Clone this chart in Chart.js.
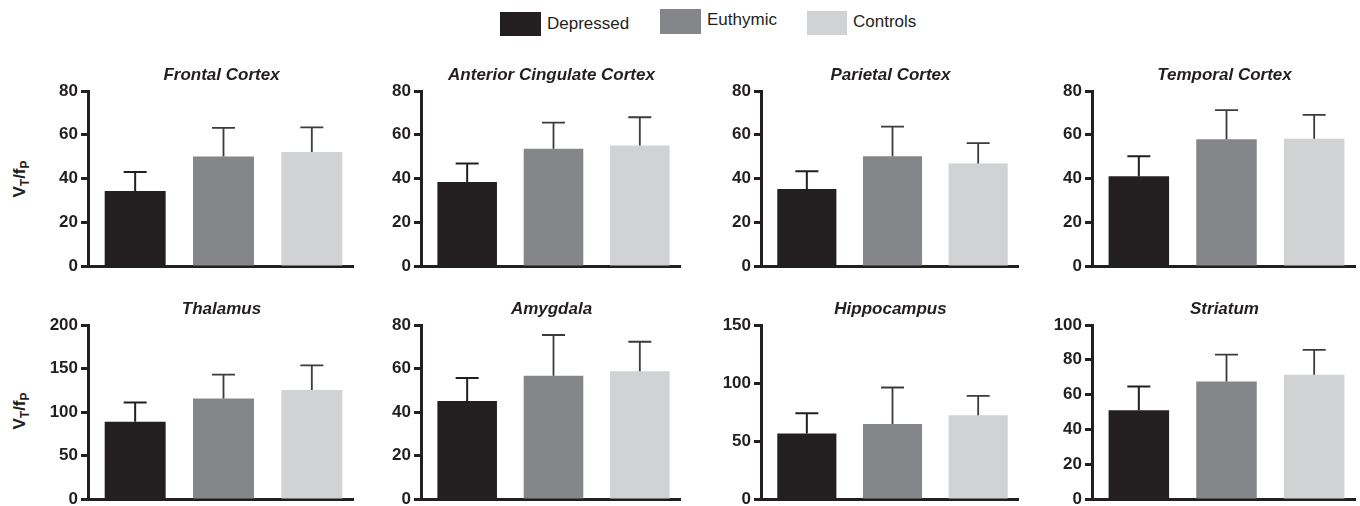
<!DOCTYPE html>
<html><head><meta charset="utf-8">
<script src="https://cdn.jsdelivr.net/npm/chart.js@4"></script>
<style>
html,body{margin:0;padding:0;background:#fff;}
body{width:1360px;height:506px;position:relative;overflow:hidden;font-family:"Liberation Sans",Arial,sans-serif;color:#231f20;}
.panel{position:absolute;}
.leg-box{position:absolute;}
.leg-text{position:absolute;font-size:17px;line-height:17px;white-space:nowrap;}
.ytitle{position:absolute;font-weight:bold;font-size:17px;line-height:20px;white-space:nowrap;transform:translate(-50%,-50%) rotate(-90deg);}
.ytitle sub{font-size:12px;vertical-align:-4px;}
</style></head><body>
<div id="root"></div>
<script>
// ---- data ----
const regions = ['Frontal Cortex','Anterior Cingulate Cortex','Parietal Cortex','Temporal Cortex','Thalamus','Amygdala','Hippocampus','Striatum'];
const groups = ['Depressed','Euthymic','Controls'];
const depressedMean = [34.3, 38.4, 35.2, 41.0, 88.8, 45.1, 56.5, 51.0];
const euthymicMean  = [50.1, 53.6, 50.2, 57.9, 115.4, 56.7, 64.6, 67.6];
const controlsMean  = [52.1, 55.1, 46.9, 58.2, 125.3, 58.7, 72.1, 71.4];
const depressedSD = [8.7, 8.5, 8.1, 9.2, 22.1, 10.5, 17.4, 13.7];
const euthymicSD  = [13.0, 11.9, 13.5, 13.4, 27.5, 18.7, 31.5, 15.4];
const controlsSD  = [11.3, 12.9, 9.3, 10.9, 28.2, 13.6, 16.8, 14.3];
const yMax  = [80, 80, 80, 80, 200, 80, 150, 100];
const yStep = [20, 20, 20, 20, 50, 20, 50, 20];

// ---- styling / layout ----
const groupColors = ['#231f20', '#858689', '#d1d2d4'];
const errColors = ['#231f20', '#3d3b3c', '#3d3b3c'];
const INK = '#231f20';
const FONT = '"Liberation Sans", Arial, sans-serif';
const axisX = [88, 421, 761, 1092];
const axisRight = [353, 680, 1018, 1355];
const rowTop = [91, 325];
const rowBottom = [266, 499];
const LW = 60, TP = 36, RP = 4, BP = 14;
const BAR_SHIFT = 3;

const root = document.getElementById('root');

// legend (HTML)
const legendPos = [
  {bx:500, by:12, bw:41, bh:24, tx:547, ty:15},
  {bx:660, by:9,  bw:41, bh:25, tx:707, ty:11},
  {bx:807, by:11, bw:40, bh:24, tx:853, ty:13}
];
groups.forEach((g, i) => {
  const p = legendPos[i];
  const b = document.createElement('div');
  b.className = 'leg-box';
  Object.assign(b.style, {left:p.bx+'px', top:p.by+'px', width:p.bw+'px', height:p.bh+'px', background:groupColors[i]});
  root.appendChild(b);
  const t = document.createElement('div');
  t.className = 'leg-text';
  t.textContent = g;
  Object.assign(t.style, {left:p.tx+'px', top:p.ty+'px'});
  root.appendChild(t);
});

// y-axis titles (HTML with subscripts)
[179, 411].forEach(cy => {
  const d = document.createElement('div');
  d.className = 'ytitle';
  d.innerHTML = 'V<sub>T</sub>/f<sub>P</sub>';
  Object.assign(d.style, {left:'22px', top:cy+'px'});
  root.appendChild(d);
});

const panelTitle = {
  id: 'panelTitle',
  afterDraw(chart, args, opts) {
    const {ctx, chartArea} = chart;
    ctx.save();
    ctx.font = 'italic bold 17px ' + FONT;
    ctx.fillStyle = INK;
    ctx.textAlign = 'center';
    ctx.textBaseline = 'middle';
    ctx.fillText(opts.text, (chartArea.left + chartArea.right) / 2 + 1, chartArea.top - 16);
    ctx.restore();
  }
};

// nudge bars slightly right of category centres, as in the reference figure
const barNudge = {
  id: 'barNudge',
  afterDatasetsUpdate(chart) {
    chart.getDatasetMeta(0).data.forEach(b => { b.x += BAR_SHIFT; });
  }
};

const errorBars = {
  id: 'errorBars',
  afterDatasetsDraw(chart) {
    const {ctx} = chart;
    const y = chart.scales.y;
    chart.data.datasets.forEach((ds, di) => {
      const meta = chart.getDatasetMeta(di);
      meta.data.forEach((bar, i) => {
        const v = ds.data[i], e = ds.errors[i];
        const y1 = y.getPixelForValue(v), y2 = y.getPixelForValue(v + e);
        ctx.save();
        ctx.strokeStyle = errColors[i];
        ctx.lineWidth = i === 0 ? 2 : 1.8;
        ctx.beginPath();
        ctx.moveTo(bar.x, y1);
        ctx.lineTo(bar.x, y2);
        ctx.moveTo(bar.x - 11.5, y2);
        ctx.lineTo(bar.x + 11.5, y2);
        ctx.stroke();
        ctx.restore();
      });
    });
  }
};

regions.forEach((name, r) => {
  const row = Math.floor(r / 4), col = r % 4;
  const left = axisX[col] - LW;
  const top = rowTop[row] - TP;
  const w = axisRight[col] - axisX[col] + LW + RP;
  const h = rowBottom[row] - rowTop[row] + TP + BP;
  const div = document.createElement('div');
  div.className = 'panel';
  Object.assign(div.style, {left:left+'px', top:top+'px', width:w+'px', height:h+'px'});
  const cv = document.createElement('canvas');
  div.appendChild(cv);
  root.appendChild(div);

  new Chart(cv, {
    type: 'bar',
    data: {
      labels: groups,
      datasets: [{
        data: [depressedMean[r], euthymicMean[r], controlsMean[r]],
        errors: [depressedSD[r], euthymicSD[r], controlsSD[r]],
        backgroundColor: groupColors,
        borderWidth: 0,
        categoryPercentage: 1,
        barPercentage: 0.69
      }]
    },
    options: {
      responsive: true,
      maintainAspectRatio: false,
      animation: false,
      layout: {padding: {top: TP, right: RP, bottom: BP - 2, left: 0}},
      plugins: {
        legend: {display: false},
        title: {display: false},
        tooltip: {enabled: false},
        panelTitle: {text: name}
      },
      scales: {
        x: {
          z: 1,
          grid: {display: false},
          ticks: {display: false},
          border: {display: true, color: INK, width: 3},
          afterFit(s) { s.height = 2; }
        },
        y: {
          z: 1,
          min: 0,
          max: yMax[r],
          ticks: {stepSize: yStep[r], color: INK, padding: 3, font: {family: FONT, size: 17, weight: 'bold'}},
          grid: {display: true, drawOnChartArea: false, drawTicks: true, tickLength: 7, tickWidth: 3, tickColor: INK},
          border: {display: true, color: INK, width: 3},
          afterFit(s) { s.width = LW; }
        }
      }
    },
    plugins: [barNudge, panelTitle, errorBars]
  });
});
</script>
</body></html>
